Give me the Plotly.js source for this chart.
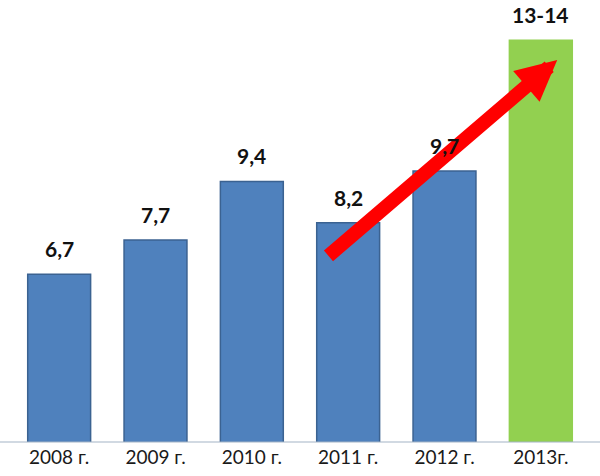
<!DOCTYPE html>
<html>
<head>
<meta charset="utf-8">
<script src="https://cdn.plot.ly/plotly-3.0.1.min.js"></script>
<style>html,body{margin:0;padding:0;background:#fff;}#chart{width:600px;height:476px;}</style>
</head>
<body>
<div id="chart"></div>
<script>
const categories = ["2008 г.", "2009 г.", "2010 г.", "2011 г.", "2012 г.", "2013г."];
const values = [6.7, 7.7, 9.4, 8.2, 9.7, 13.5];
const valueLabels = ["6,7", "7,7", "9,4", "8,2", "9,7", "13-14"];
const barColors = ["#4f81bd", "#4f81bd", "#4f81bd", "#4f81bd", "#4f81bd", "#92d050"];
const lineColors = ["#3b6291", "#3b6291", "#3b6291", "#3b6291", "#3b6291", "#92d050"];

const idx = categories.map((c, i) => i);

const trace = {
  type: "bar",
  x: idx,
  y: values,
  marker: { color: barColors, line: { color: lineColors, width: 1.5 } },
  hoverinfo: "skip"
};

// trend arrow from the 2011 bar towards the 2013 bar (drawn first, labels stay readable)
const annotations = [{
  x: 5.17, y: 12.93, xref: "x", yref: "y",
  ax: 2.78, ay: 7.2, axref: "x", ayref: "y",
  text: "", showarrow: true,
  arrowhead: 2, arrowwidth: 14, arrowsize: 0.58, arrowcolor: "#ff0000",
  standoff: 0, startstandoff: 0
}];

idx.forEach(i => annotations.push({
  x: i, y: values[i], xref: "x", yref: "y",
  text: valueLabels[i], showarrow: false,
  yanchor: "bottom", yshift: 11,
  font: { family: "Lato, 'Open Sans', sans-serif", size: 21, color: "#111", weight: "bold" }
}));

const layout = {
  width: 600, height: 476,
  margin: { l: 11, r: 11, t: 0, b: 34 },
  paper_bgcolor: "#fff", plot_bgcolor: "#fff",
  bargap: 0.347,
  showlegend: false,
  xaxis: {
    range: [-0.5, 5.5],
    tickmode: "array", tickvals: idx, ticktext: categories,
    ticks: "", showline: false, showgrid: false, zeroline: false,
    ticklabelstandoff: 2,
    tickfont: { family: "Lato, 'Open Sans', sans-serif", size: 19, color: "#1a1a1a" },
    fixedrange: true
  },
  yaxis: {
    range: [1.83, 14.67],
    visible: false, showgrid: false, zeroline: false, fixedrange: true
  },
  shapes: [{
    type: "line", xref: "paper", yref: "paper",
    x0: -0.02, x1: 1.02, y0: 0, y1: 0,
    line: { color: "#a3b3c6", width: 1.2 }
  }],
  annotations: annotations
};

Plotly.newPlot("chart", [trace], layout, { displayModeBar: false, staticPlot: true });
</script>
</body>
</html>
